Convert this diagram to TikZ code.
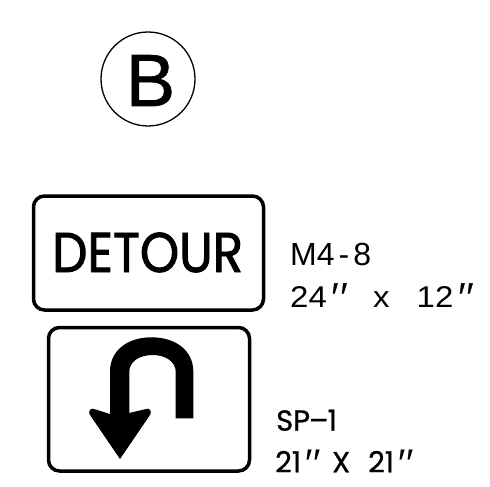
\documentclass[tikz,border=0pt]{standalone}
\usepackage{fontspec}
\setmainfont{Liberation Sans}
\newfontfamily\geo[FakeBold=1.6,FakeStretch=0.89]{Poppins}
\newfontfamily\geolabel[FakeBold=0.8]{Poppins}
\newfontfamily\heavysans[FakeBold=1.0]{Liberation Sans}
\newfontfamily\widesans[FakeStretch=1.1]{Liberation Sans}
\newfontfamily\primefont{Liberation Sans}
\newcommand{\dblprime}[2]{\raisebox{-5pt}{\primefont\itshape\fontsize{#1}{#1}\selectfont\char"2032\kern#2\char"2032}}
\tikzset{
  x=1pt,y=-1pt,
  signbox/.style={draw=black,line width=3.5pt,rounded corners=11pt,fill=white},
  txt/.style={inner sep=0pt,anchor=base west,text=black},
}
\begin{document}
\begin{tikzpicture}
\useasboundingbox (0,0) rectangle (490,487);
\node[draw=black,line width=1.3pt,circle,minimum size=94pt,inner sep=0pt] (badge) at (148,79) {};
\node[txt,anchor=base] (bletter) at (150.5,106) {\heavysans\fontsize{74}{74}\selectfont B};
\draw[signbox] (33.5,196) rectangle (263.5,310);
\draw[signbox] (48.5,327.5) rectangle (249.5,471);
\node[txt] (detour) at (52,272) {\geo\fontsize{56}{56}\selectfont DETOUR};
\fill[black] (175.7,418.3) -- (193.3,418.3) -- (193.3,371.7)
  .. controls (193.3,350) and (175,337.3) .. (151.5,337.3)
  .. controls (128,337.3) and (110,350) .. (110,371.7)
  -- (110,414) -- (93.5,408.8)
  .. controls (90,408) and (88,412) .. (90,415)
  -- (120,459) -- (150,415)
  .. controls (152,412) and (150,408) .. (147,408.8)
  -- (129.3,413) -- (129.3,371.7)
  .. controls (129.3,362) and (139,355) .. (152.5,355)
  .. controls (166,355) and (175.7,362) .. (175.7,371.7) -- cycle;
\node[txt] (code1) at (290,265) {\fontsize{32}{32}\selectfont M4\kern4pt-\kern4pt8};
\node[txt] (size1) at (290,307) {\widesans\fontsize{30}{30}\selectfont 24\kern3pt\dblprime{42}{0.5pt}\kern27pt x\kern27pt 12\kern3pt\dblprime{42}{0.5pt}};
\node[txt] (code2) at (276,430.7) {\geolabel\fontsize{29}{29}\selectfont SP\kern-1pt\char"2013\kern-1pt 1};
\node[txt] (size2) at (275,472.3) {\geolabel\fontsize{29}{29}\selectfont 21\kern2pt\dblprime{40}{1pt}\kern13pt X\kern18pt 21\kern2pt\dblprime{40}{1pt}};
\end{tikzpicture}
\end{document}
